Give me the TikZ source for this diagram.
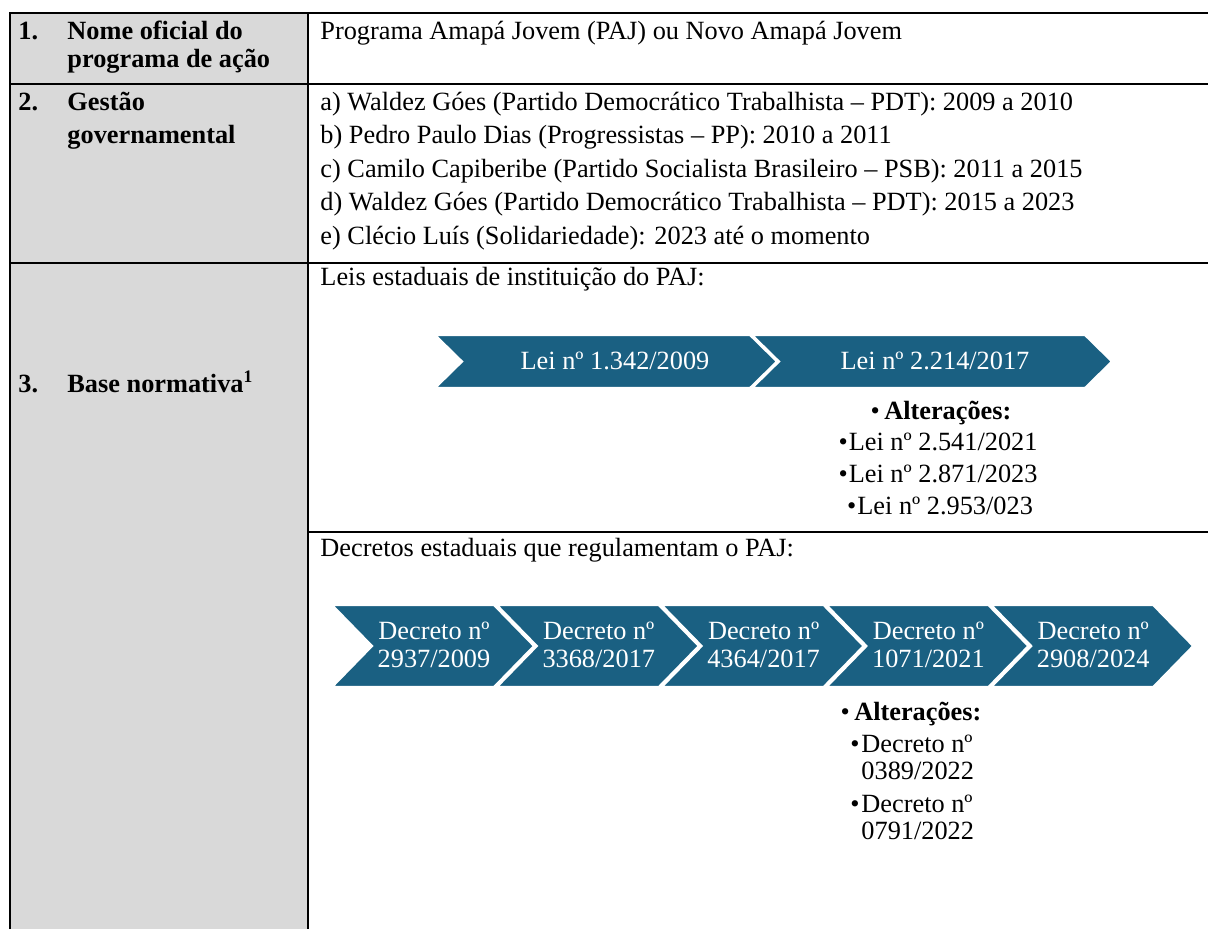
\documentclass[tikz,border=0pt]{standalone}
\usepackage{fontspec}
\setmainfont{Liberation Serif}
\usepackage{tikz}
\usetikzlibrary{calc}

\definecolor{chevblue}{RGB}{26,96,130}
\definecolor{cellgray}{RGB}{217,217,217}

\begin{document}
\begin{tikzpicture}[x=0.456pt, y=-0.456pt, font=\fontsize{12}{15}\selectfont,
  txt/.style={anchor=base west, inner sep=0pt},
  hd/.style={anchor=base west, inner sep=0pt, font=\fontsize{12}{15}\selectfont\bfseries},
  chev/.style={fill=chevblue, draw=white, line width=1pt},
  wtxt/.style={anchor=base, inner sep=0pt, text=white},
  grid/.style={line width=1.2pt}]
  \useasboundingbox (0,0) rectangle (1208,929);
  % grey first column
  \fill[cellgray] (10,13) rectangle (308,929);
  % table lines
  \draw[grid] (10,929) -- (10,13) -- (1208,13);
  \draw[grid] (308,13) -- (308,929);
  \draw[grid] (10,84) -- (1208,84);
  \draw[grid] (10,263) -- (1208,263);
  \draw[grid] (308,532) -- (1208,532);
  % row 1
  \node[hd] (n1) at (18,39) {1.};
  \node[hd] (t1a) at (67,39) {Nome oficial do};
  \node[hd] (t1b) at (67,67) {programa de ação};
  \node[txt] (prog) at (320,39) {Programa Amapá Jovem (PAJ) ou Novo Amapá Jovem};
  % row 2
  \node[hd] (n2) at (18,110) {2.};
  \node[hd] (t2a) at (67,110) {Gestão};
  \node[hd] (t2b) at (67,143.5) {governamental};
  \foreach \txt [count=\i from 0] in {
      {a) Waldez Góes (Partido Democrático Trabalhista – PDT): 2009 a 2010},
      {b) Pedro Paulo Dias (Progressistas – PP): 2010 a 2011},
      {c) Camilo Capiberibe (Partido Socialista Brasileiro – PSB): 2011 a 2015},
      {d) Waldez Góes (Partido Democrático Trabalhista – PDT): 2015 a 2023},
      {e) Clécio Luís (Solidariedade): 2023 até o momento}}
    \node[txt] (gov\i) at (320,{110+33.5*\i}) {\txt};
  % row 3
  \node[hd] (n3) at (18,392) {3.};
  \node[hd] (t3) at (67,392) {Base normativa\textsuperscript{1}};
  % leis
  \node[txt] (leis) at (320,285) {Leis estaduais de instituição do PAJ:};
  \draw[chev] (435,335) -- (750,335) -- (777,361.5) -- (750,388) -- (435,388) -- (462,361.5) -- cycle;
  \draw[chev] (752,335) -- (1085,335) -- (1112,361.5) -- (1085,388) -- (752,388) -- (779,361.5) -- cycle;
  \node[wtxt] (lei1) at (615,369) {Lei nº 1.342/2009};
  \node[wtxt] (lei2) at (935,369) {Lei nº 2.214/2017};
  \node[anchor=base, inner sep=0pt] (altlei) at (941,419) {\textbullet\,\textbf{Alterações:}};
  \node[anchor=base, inner sep=0pt] (altlei1) at (938,450) {\textbullet\hspace{0.5pt}Lei nº 2.541/2021};
  \node[anchor=base, inner sep=0pt] (altlei2) at (938,482) {\textbullet\hspace{0.5pt}Lei nº 2.871/2023};
  \node[anchor=base, inner sep=0pt] (altlei3) at (940,514) {\textbullet\hspace{0.5pt}Lei nº 2.953/023};
  % decretos
  \node[txt] (decs) at (320,556) {Decretos estaduais que regulamentam o PAJ:};
  \foreach \num [count=\i from 0] in {2937/2009, 3368/2017, 4364/2017, 1071/2021, 2908/2024} {
    \pgfmathsetmacro\L{332+164.8*\i}
    \draw[chev] (\L,605) -- ({\L+162},605) -- ({\L+202},646) -- ({\L+162},687)
      -- (\L,687) -- ({\L+40},646) -- cycle;
    \node[wtxt] (dec\i a) at ({\L+102},639) {Decreto nº};
    \node[wtxt] (dec\i b) at ({\L+102},667) {\num};
  }
  \node[anchor=base, inner sep=0pt] (altdec) at (911,720) {\textbullet\,\textbf{Alterações:}};
  \node[txt] (altdec1) at (850,752) {\textbullet};
  \node[txt] (altdec1a) at (861,752) {Decreto nº};
  \node[txt] (altdec1b) at (861,779) {0389/2022};
  \node[txt] (altdec2) at (850,812) {\textbullet};
  \node[txt] (altdec2a) at (861,812) {Decreto nº};
  \node[txt] (altdec2b) at (861,839) {0791/2022};
\end{tikzpicture}
\end{document}
